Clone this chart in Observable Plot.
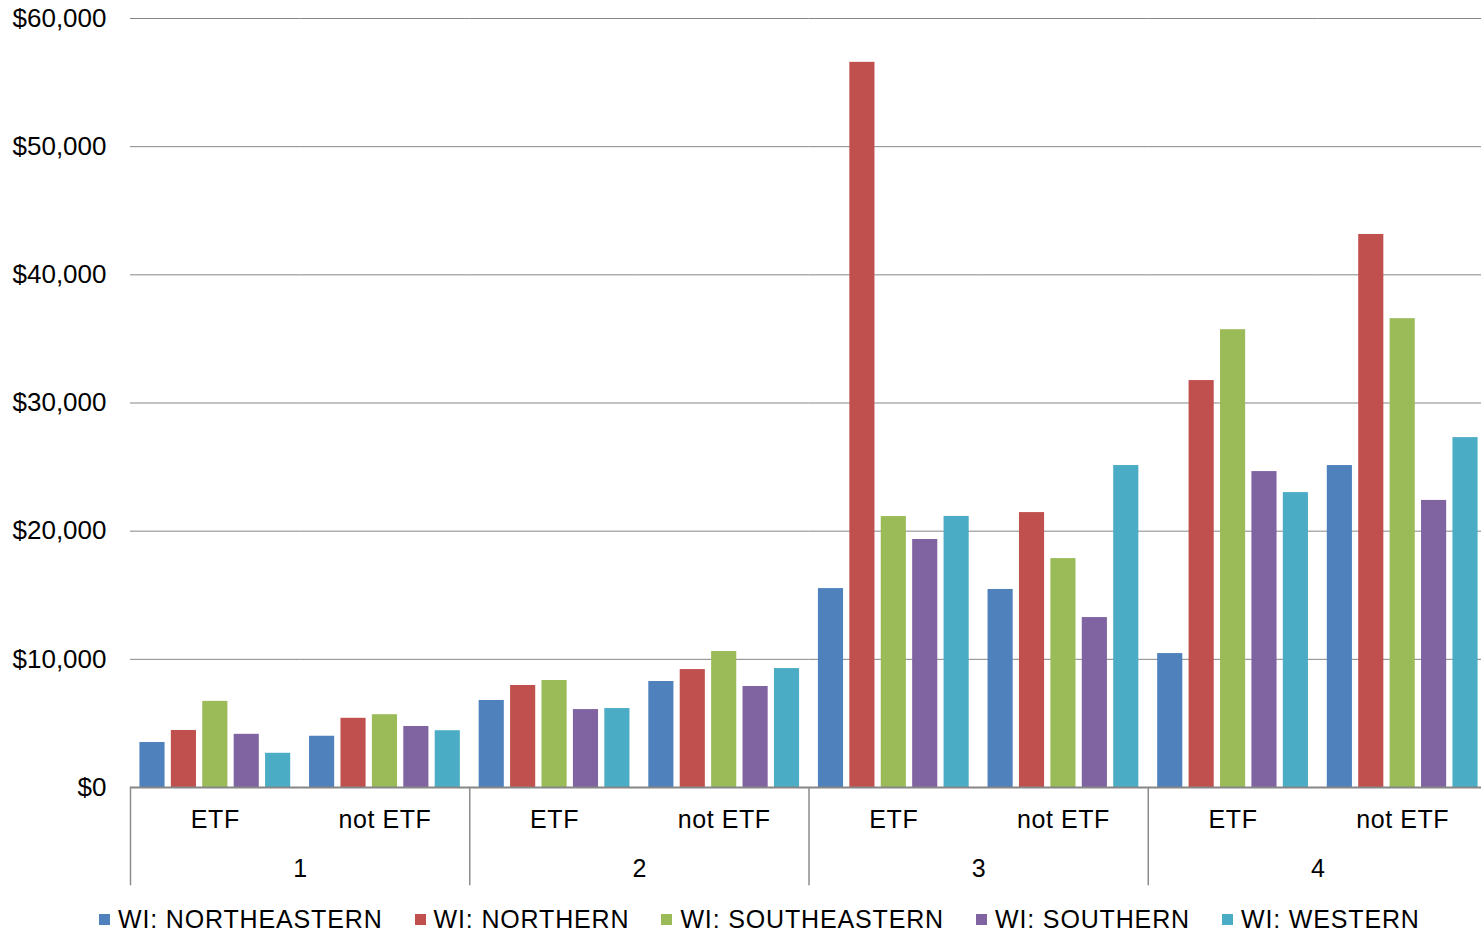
<!DOCTYPE html>
<html>
<head>
<meta charset="utf-8">
<script src="https://cdn.jsdelivr.net/npm/d3@7"></script>
<script src="https://cdn.jsdelivr.net/npm/@observablehq/plot@0.6"></script>
<style>
  html, body { margin: 0; padding: 0; background: #fff; overflow: hidden; }
  #wrap { position: relative; width: 1481px; height: 932px; overflow: hidden; }
  #chart svg { max-width: none !important; }
  #legend { position: absolute; left: 99px; top: 905px; display: flex; align-items: center;
    font-family: "Liberation Sans", Arial, sans-serif; font-size: 25px; color: #000; white-space: nowrap; }
  .item { display: flex; align-items: center; margin-right: 32px; }
  .sw { width: 11px; height: 11px; margin-right: 8px; }
  .lbl { letter-spacing: 0.85px; }
  .cat { letter-spacing: 0.6px; }
</style>
</head>
<body>
<div id="wrap"><div id="chart"></div><div id="legend"></div></div>
<script>
const groups = ["1", "2", "3", "4"];
const subs = ["ETF", "not ETF"];
const regions = ["WI: NORTHEASTERN", "WI: NORTHERN", "WI: SOUTHEASTERN", "WI: SOUTHERN", "WI: WESTERN"];
const colors = ["#4F81BD", "#C0504D", "#9BBB59", "#8064A2", "#4BACC6"];
// values in order: 1 ETF, 1 not ETF, 2 ETF, 2 not ETF, 3 ETF, 3 not ETF, 4 ETF, 4 not ETF
const northeastern = [3510, 4000, 6790, 8270, 15520, 15450, 10450, 25120];
const northern     = [4450, 5400, 7960, 9200, 56580, 21450, 31750, 43150];
const southeastern = [6720, 5680, 8350, 10610, 21140, 17860, 35720, 36580];
const southern     = [4150, 4760, 6080, 7880, 19350, 13260, 24650, 22400];
const western      = [2670, 4430, 6160, 9280, 21150, 25120, 23010, 27300];
const yTicks = [0, 10000, 20000, 30000, 40000, 50000, 60000];

const series = [northeastern, northern, southeastern, southern, western];
const cells = groups.flatMap(g => subs.map(s => ({g, s, key: g + "|" + s})));
const data = [];
cells.forEach((c, i) => regions.forEach((r, j) => data.push({key: c.key, region: r, value: series[j][i]})));
const fmt = d3.format("$,");

const chart = Plot.plot({
  width: 1487,
  height: 895,
  marginTop: 18,
  marginBottom: 108,
  marginLeft: 130,
  marginRight: 0,
  style: {fontFamily: "Liberation Sans, Arial, sans-serif", fontSize: "25px", color: "#000", background: "#fff"},
  fx: {domain: cells.map(c => c.key), padding: 0, round: false, axis: null},
  x: {domain: regions, paddingInner: 0.2, paddingOuter: 0.3, round: false, axis: null},
  y: {domain: [0, 60000], axis: null},
  color: {domain: regions, range: colors},
  marks: [
    Plot.gridY(yTicks, {stroke: "#868686", strokeOpacity: 1, strokeWidth: 1}),
    Plot.text(yTicks, {fx: () => cells[0].key, y: d => d, text: d => fmt(d), frameAnchor: "left", textAnchor: "end", dx: -24, fontSize: 26, fill: "#000"}),
    Plot.barY(data, {fx: "key", x: "region", y: "value", fill: "region"}),
    Plot.ruleY([0], {stroke: "#868686", strokeWidth: 2}),
    ...groups.map(g => Plot.frame({fx: g + "|ETF", anchor: "left", stroke: "#8c8c8c", strokeWidth: 1.5, insetTop: 769, insetBottom: -97})),
    Plot.text(cells, {fx: "key", text: "s", frameAnchor: "bottom", dy: 32, lineAnchor: "middle", fontSize: 25, fill: "#000", className: "cat"}),
    Plot.text(groups, {fx: g => g + "|not ETF", text: g => g, frameAnchor: "bottom-left", dy: 81, textAnchor: "middle", lineAnchor: "middle", fontSize: 25, fill: "#000"})
  ]
});
document.getElementById("chart").appendChild(chart);

const legend = document.getElementById("legend");
regions.forEach((r, i) => {
  const item = document.createElement("div");
  item.className = "item";
  const sw = document.createElement("div");
  sw.className = "sw";
  sw.style.background = colors[i];
  const lbl = document.createElement("span");
  lbl.className = "lbl";
  lbl.textContent = r;
  item.appendChild(sw);
  item.appendChild(lbl);
  legend.appendChild(item);
});
</script>
</body>
</html>
